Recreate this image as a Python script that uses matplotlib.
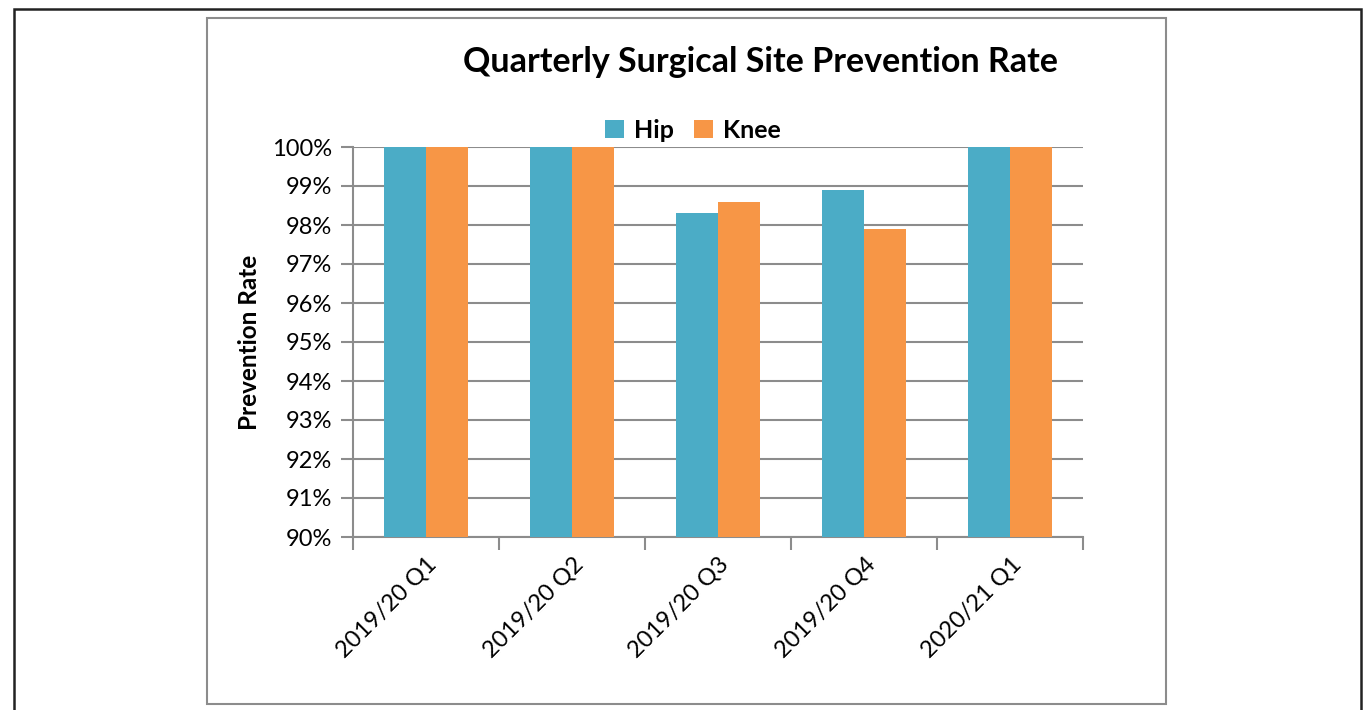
import matplotlib.pyplot as plt
import matplotlib.patches as patches
import numpy as np

# Chart data
quarters = ['2019/20 Q1', '2019/20 Q2', '2019/20 Q3', '2019/20 Q4', '2020/21 Q1']
hip = [100, 100, 98.3, 98.9, 100]
knee = [100, 100, 98.6, 97.9, 100]
y_ticks = [90, 91, 92, 93, 94, 95, 96, 97, 98, 99, 100]

hip_color = '#4BACC6'
knee_color = '#F79646'
grid_color = '#8C8C8C'

plt.rcParams['font.family'] = ['Lato', 'DejaVu Sans']

W, H = 1364, 710
fig = plt.figure(figsize=(W / 100, H / 100), dpi=100)

# Outer black frame and grey chart frame
fig.add_artist(patches.Rectangle((14 / W, -0.05), (1361 - 14) / W, 1.05 - 9 / H,
                                 transform=fig.transFigure, fill=False,
                                 edgecolor='#222222', linewidth=1.8))
fig.add_artist(patches.Rectangle((207 / W, 1 - 704 / H), (1166 - 207) / W, (704 - 18) / H,
                                 transform=fig.transFigure, fill=False,
                                 edgecolor='#8C8C8C', linewidth=1.5))

# Plot area in pixels: x 353..1083, y 147..537
ax = fig.add_axes([353 / W, 1 - 537 / H, (1083 - 353) / W, (537 - 147) / H])

x = np.arange(len(quarters))
width = 0.29
ax.bar(x - width / 2, hip, width, color=hip_color, label='Hip', zorder=3)
ax.bar(x + width / 2, knee, width, color=knee_color, label='Knee', zorder=3)

ax.set_ylim(90, 100)
ax.set_xlim(-0.5, len(quarters) - 0.5)
ax.set_yticks(y_ticks)
ax.set_yticklabels([f'{v}%' for v in y_ticks], fontsize=17)
ax.yaxis.grid(True, color=grid_color, linewidth=1.5, zorder=0)

# x ticks sit between categories, labels at the centres
ax.set_xticks(np.arange(len(quarters) + 1) - 0.5)
ax.set_xticklabels([])
ax.set_xticks(x, minor=True)
ax.set_xticklabels(quarters, minor=True, rotation=45, ha='right',
                   rotation_mode='anchor', fontsize=17)
ax.tick_params(axis='x', which='minor', length=0, pad=12)
ax.tick_params(axis='x', which='major', length=9, width=1.5, color=grid_color, direction='out')
ax.tick_params(axis='y', length=9, width=1.5, color=grid_color, direction='out', pad=6)

for side in ['top', 'right']:
    ax.spines[side].set_visible(False)
for side in ['left', 'bottom']:
    ax.spines[side].set_color(grid_color)
    ax.spines[side].set_linewidth(1.5)

ax.set_ylabel('Prevention Rate', fontsize=17.5, fontweight='bold', labelpad=8)

fig.text(761 / W, 1 - 62 / H, 'Quarterly Surgical Site Prevention Rate',
         ha='center', va='center', fontsize=24.5, fontweight='bold')

ax.legend(loc='center', bbox_to_anchor=(693 / W, 1 - 130 / H), bbox_transform=fig.transFigure,
          ncol=2, frameon=False, prop={'size': 18, 'weight': 'bold'},
          handlelength=0.75, handleheight=0.75, handletextpad=0.4, columnspacing=0.8)

fig.savefig('out.png', dpi=100)
